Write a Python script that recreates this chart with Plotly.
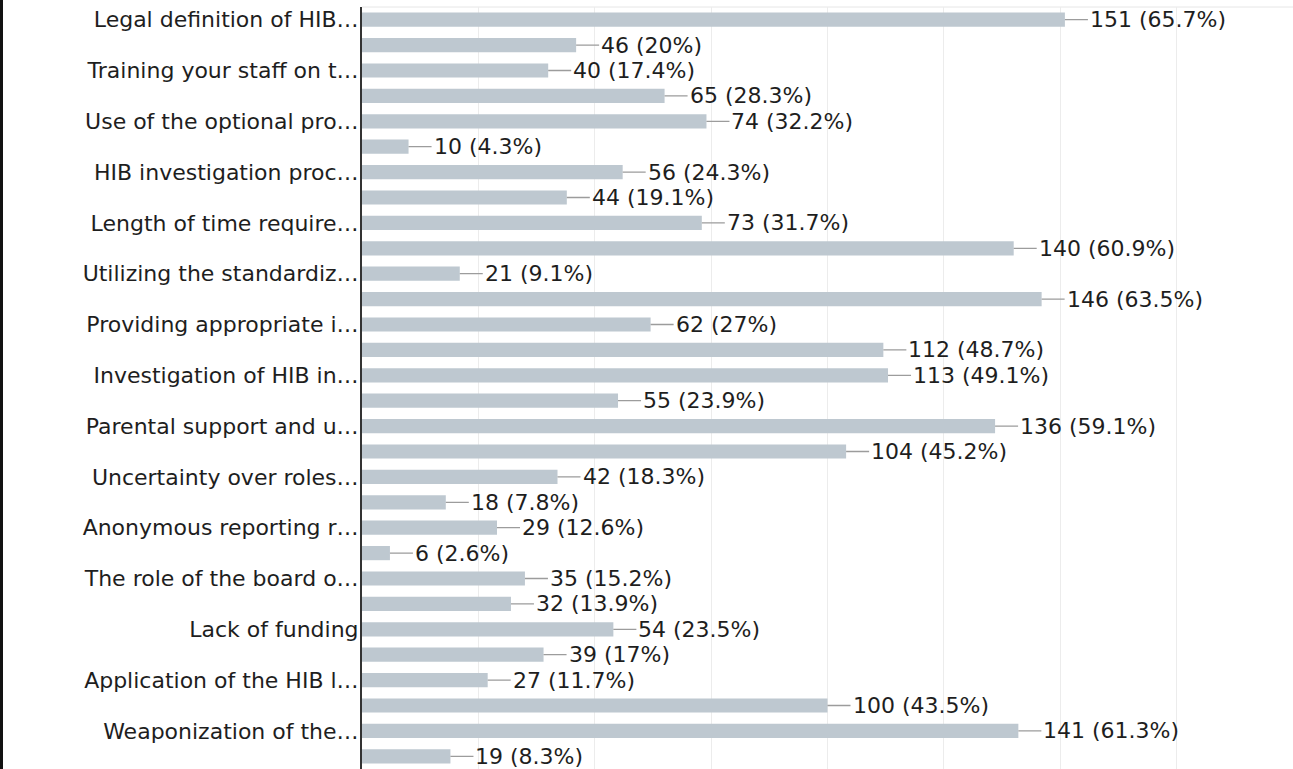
import plotly.graph_objects as go

# Survey items (every item occupies two consecutive bars)
questions = [
    "Legal definition of HIB…",
    "Training your staff on t…",
    "Use of the optional pro…",
    "HIB investigation proc…",
    "Length of time require…",
    "Utilizing the standardiz…",
    "Providing appropriate i…",
    "Investigation of HIB in…",
    "Parental support and u…",
    "Uncertainty over roles…",
    "Anonymous reporting r…",
    "The role of the board o…",
    "Lack of funding",
    "Application of the HIB l…",
    "Weaponization of the…",
]

counts = [151, 46, 40, 65, 74, 10, 56, 44, 73, 140, 21, 146, 62, 112, 113,
          55, 136, 104, 42, 18, 29, 6, 35, 32, 54, 39, 27, 100, 141, 19]

percents = ["65.7", "20", "17.4", "28.3", "32.2", "4.3", "24.3", "19.1",
            "31.7", "60.9", "9.1", "63.5", "27", "48.7", "49.1", "23.9",
            "59.1", "45.2", "18.3", "7.8", "12.6", "2.6", "15.2", "13.9",
            "23.5", "17", "11.7", "43.5", "61.3", "8.3"]

rows = list(range(len(counts)))
label_rows = rows[::2]

W, H = 1293, 769
ML, MT = 362, 7
FONT = "DejaVu Sans, Liberation Sans, Arial, sans-serif"
FS = 22
TEXT = "#1e1e1e"

fig = go.Figure(
    go.Bar(
        x=counts,
        y=rows,
        orientation="h",
        marker=dict(color="#bec8d0", line=dict(width=0)),
        width=0.56,
        hoverinfo="x",
    )
)

# value labels with a short leader line from the end of each bar
for r, c, p in zip(rows, counts, percents):
    fig.add_annotation(
        x=c, y=r, xref="x", yref="y",
        text=f"{c} ({p}%)",
        showarrow=True, arrowhead=0, arrowwidth=1.3, arrowcolor="#9c9c9c",
        ax=23, ay=0, xanchor="left", yanchor="middle", standoff=0,
        borderpad=1,
        font=dict(family=FONT, size=FS, color=TEXT),
    )

plot_w = W - ML
# thin frame edge along the left side of the figure
fig.add_shape(
    type="line", xref="paper", yref="paper",
    x0=(1.5 - ML) / plot_w, x1=(1.5 - ML) / plot_w, y0=-0.02, y1=1.02,
    line=dict(color="#111111", width=3), layer="above",
)
# faint top edge of the plot area
fig.add_shape(
    type="line", xref="paper", yref="paper",
    x0=0, x1=1, y0=1, y1=1,
    line=dict(color="#e6e6e6", width=1), layer="below",
)

fig.update_layout(
    width=W, height=H,
    margin=dict(l=ML, r=0, t=MT, b=0, autoexpand=False),
    paper_bgcolor="white", plot_bgcolor="white",
    showlegend=False,
    bargap=0.44,
    font=dict(family=FONT, size=FS, color=TEXT),
    xaxis=dict(
        range=[0, 200], dtick=25, showgrid=True, gridcolor="#ececec",
        gridwidth=1, zeroline=False, showticklabels=False, ticks="",
        showline=False, fixedrange=True,
    ),
    yaxis=dict(
        range=[29.5, -0.5], tickmode="array", tickvals=label_rows,
        ticktext=questions, ticks="", showgrid=False, zeroline=False,
        showline=True, linecolor="#333333", linewidth=2,
        ticklabelstandoff=-3, automargin=False, fixedrange=True,
        tickfont=dict(family=FONT, size=FS, color=TEXT),
    ),
)

fig.write_html("out.html", config={"displayModeBar": False})
